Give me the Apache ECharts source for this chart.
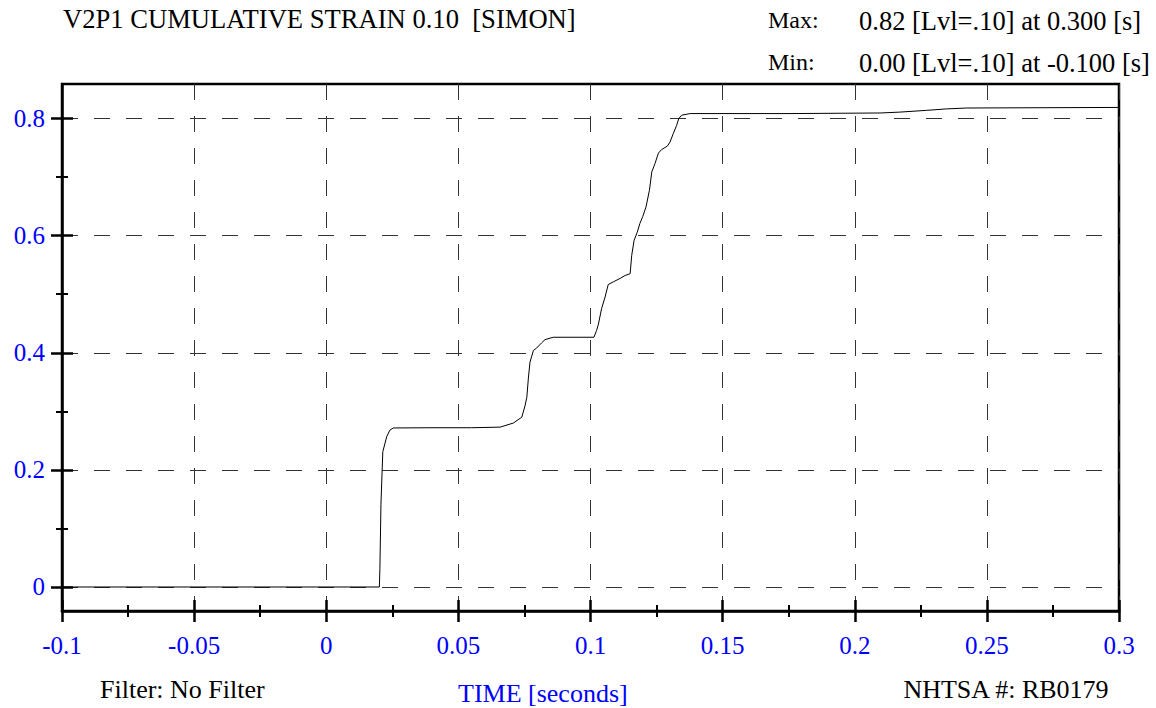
<!DOCTYPE html>
<html>
<head>
<meta charset="utf-8">
<script src="https://cdn.jsdelivr.net/npm/echarts@6/dist/echarts.min.js"></script>
<style>html,body{margin:0;padding:0;background:#fff}#c{width:1156px;height:708px}</style>
</head>
<body>
<div id="c"></div>
<script>
// Data (time [s], cumulative strain)
var timeValues = [-0.1, 0.0201, 0.0203, 0.0205, 0.0207, 0.0209, 0.0214, 0.0216, 0.0229, 0.0241, 0.0254, 0.0400, 0.0550, 0.0658, 0.0708, 0.0740, 0.0752, 0.0759, 0.0765, 0.0771, 0.0784, 0.0796, 0.0815, 0.0828, 0.0859, 0.1013, 0.1023, 0.1030, 0.1042, 0.1055, 0.1067, 0.1086, 0.1112, 0.1131, 0.1150, 0.1156, 0.1165, 0.1177, 0.1187, 0.1198, 0.1210, 0.1223, 0.1232, 0.1244, 0.1257, 0.1269, 0.1291, 0.1301, 0.1313, 0.1326, 0.1334, 0.1345, 0.1377, 0.1755, 0.2096, 0.2171, 0.2272, 0.2348, 0.2424, 0.3];
var strainValues = [0.000, 0.000, 0.032, 0.032, 0.141, 0.141, 0.231, 0.231, 0.257, 0.268, 0.2716, 0.272, 0.272, 0.273, 0.280, 0.290, 0.309, 0.324, 0.357, 0.384, 0.404, 0.408, 0.417, 0.4225, 0.4265, 0.4265, 0.438, 0.449, 0.4755, 0.495, 0.5165, 0.521, 0.527, 0.532, 0.535, 0.5665, 0.592, 0.606, 0.621, 0.633, 0.649, 0.6775, 0.709, 0.723, 0.741, 0.747, 0.753, 0.760, 0.774, 0.7885, 0.800, 0.8057, 0.8085, 0.8085, 0.8095, 0.811, 0.814, 0.8165, 0.818, 0.819];
var yMajorTicks = [0, 0.2, 0.4, 0.6, 0.8];
var yMinorTicks = [0.1, 0.3, 0.5, 0.7];
var titleText = 'V2P1 CUMULATIVE STRAIN 0.10  [SIMON]';
var maxText = '0.82 [Lvl=.10] at 0.300 [s]';
var minText = '0.00 [Lvl=.10] at -0.100 [s]';

var seriesData = timeValues.map(function (t, i) { return [t, strainValues[i]]; });

var FONT = 'Liberation Serif';
var BLUE = '#0000ff';
var yMin = -0.041, yMax = 0.859;
var dash = { color: '#333', width: 1, type: [16, 16] };

function tt(text, pos, size, color) {
  return Object.assign({ text: text, padding: 0,
    textStyle: { fontFamily: FONT, fontSize: size, fontWeight: 'normal', color: color || '#000' } }, pos);
}

function xAx(opts) {
  return Object.assign({
    type: 'value', min: -0.1, max: 0.3, interval: 0.05, position: 'bottom',
    axisLine: { show: false, onZero: false }, axisLabel: { show: false },
    splitLine: { show: false }, axisTick: { show: false }
  }, opts);
}
function yAx(opts) {
  return Object.assign({
    type: 'value', min: yMin, max: yMax, position: 'left',
    axisLine: { show: false, onZero: false }, axisLabel: { show: false },
    splitLine: { show: false }, axisTick: { show: false }
  }, opts);
}

var chart = echarts.init(document.getElementById('c'), null, { renderer: 'svg' });
chart.setOption({
  backgroundColor: '#fff',
  animation: false,
  title: [
    tt(titleText, { left: 63, top: 5 }, 26.6),
    tt('Max:', { left: 768, top: 8 }, 24),
    tt(maxText, { left: 859, top: 7 }, 26.5),
    tt('Min:', { left: 768, top: 50 }, 24),
    tt(minText, { left: 859, top: 49 }, 26.5),
    tt('Filter: No Filter', { left: 100, top: 676 }, 26),
    tt('TIME [seconds]', { left: 458, top: 680 }, 26, BLUE),
    tt('NHTSA #: RB0179', { right: 46, top: 676 }, 26)
  ],
  grid: { left: 62, right: 37, top: 84, bottom: 97, show: true, borderColor: '#000', borderWidth: 2.5, backgroundColor: 'transparent' },
  xAxis: [
    xAx({
      axisLine: { show: true, onZero: false, lineStyle: { color: '#000', width: 2.5 } },
      axisLabel: { show: true, margin: 22, fontFamily: FONT, fontSize: 25, color: BLUE,
        formatter: function (v) { return String(Math.round(v * 1000) / 1000); } },
      axisTick: { show: true, length: 11, lineStyle: { color: '#000', width: 2.5 } },
      minorTick: { show: true, splitNumber: 2, length: 6, lineStyle: { color: '#000', width: 2 } },
      splitLine: { show: true, lineStyle: dash }
    }),
    xAx({
      axisTick: { show: true, inside: true, length: 11, lineStyle: { color: '#000', width: 2.5 } },
      minorTick: { show: true, splitNumber: 2, length: 6, lineStyle: { color: '#000', width: 2 } }
    })
  ],
  yAxis: [
    yAx({
      axisLine: { show: true, onZero: false, lineStyle: { color: '#000', width: 2.5 } },
      axisLabel: { show: true, customValues: yMajorTicks, margin: 17, fontFamily: FONT, fontSize: 25, color: BLUE,
        formatter: function (v) { return String(Math.round(v * 1000) / 1000); } },
      axisTick: { show: true, customValues: yMajorTicks, length: 11, lineStyle: { color: '#000', width: 2.5 } },
      splitLine: { show: true, lineStyle: dash }
    }),
    yAx({ axisTick: { show: true, inside: true, customValues: yMajorTicks, length: 11, lineStyle: { color: '#000', width: 2.5 } } }),
    yAx({ axisTick: { show: true, customValues: yMinorTicks, length: 6, lineStyle: { color: '#000', width: 2 } } }),
    yAx({ axisTick: { show: true, inside: true, customValues: yMinorTicks, length: 6, lineStyle: { color: '#000', width: 2 } } })
  ],
  series: [{
    type: 'line',
    data: seriesData,
    showSymbol: false,
    lineStyle: { color: '#000', width: 1 },
    z: 5
  }]
});
</script>
</body>
</html>
